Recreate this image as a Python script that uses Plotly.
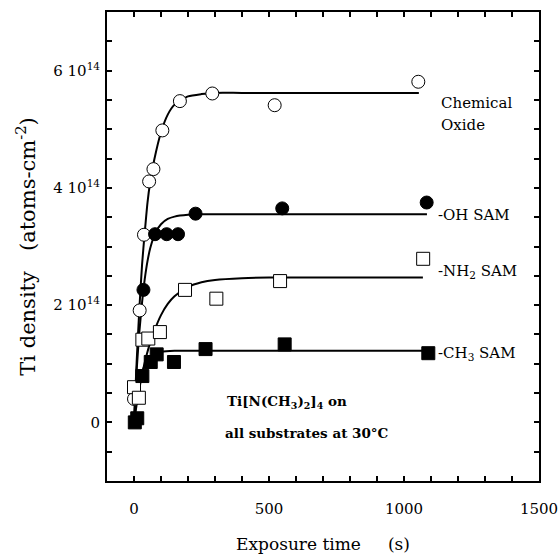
import plotly.graph_objects as go

# ---- data (Ti density in units of 1e14 atoms/cm^2, time in s) ----
ox_t = [0, 21, 37, 56, 72, 105, 170, 290, 521, 1053]
ox_v = [0.40, 1.91, 3.20, 4.11, 4.32, 4.98, 5.48, 5.61, 5.41, 5.81]

oh_t = [35, 78, 121, 163, 228, 549, 1084]
oh_v = [2.26, 3.21, 3.21, 3.21, 3.56, 3.65, 3.75]

nh2_t = [0, 18, 31, 53, 96, 189, 305, 541, 1071]
nh2_v = [0.60, 0.42, 1.41, 1.43, 1.54, 2.26, 2.11, 2.41, 2.79]

ch3_t = [3, 12, 31, 62, 84, 148, 265, 558, 1090]
ch3_v = [0.00, 0.07, 0.79, 1.03, 1.16, 1.03, 1.25, 1.33, 1.18]

# fit curves
ox_fit_t = [0, 10, 20, 30, 40, 50, 60, 75, 100, 125, 150, 200, 250, 300, 400, 1055]
ox_fit_v = [0, 1.05, 1.95, 2.70, 3.25, 3.75, 4.10, 4.48, 4.95, 5.25, 5.42, 5.56, 5.60, 5.62, 5.62, 5.62]

oh_fit_t = [0, 10, 20, 30, 40, 50, 60, 80, 100, 125, 150, 200, 250, 300, 1085]
oh_fit_v = [0, 0.90, 1.55, 2.05, 2.45, 2.75, 2.97, 3.24, 3.38, 3.47, 3.51, 3.54, 3.55, 3.55, 3.55]

nh2_fit_t = [0, 10, 20, 30, 45, 60, 75, 100, 125, 150, 200, 250, 300, 400, 500, 1070]
nh2_fit_v = [0, 0.31, 0.58, 0.82, 1.12, 1.36, 1.56, 1.83, 2.02, 2.15, 2.31, 2.39, 2.43, 2.46, 2.47, 2.47]

ch3_fit_t = [0, 10, 20, 30, 40, 50, 60, 80, 100, 150, 200, 1090]
ch3_fit_v = [0, 0.42, 0.68, 0.86, 0.97, 1.05, 1.11, 1.17, 1.20, 1.22, 1.22, 1.22]

x_tick_vals = list(range(0, 1501, 100))
x_tick_text = [str(v) if v % 500 == 0 else "" for v in x_tick_vals]
y_tick_vals = [i * 0.5 for i in range(-1, 14)]
y_tick_text = []
for v in y_tick_vals:
    if v == 0:
        y_tick_text.append("0")
    elif v in (2, 4, 6):
        y_tick_text.append("%d 10<sup>14</sup>" % v)
    else:
        y_tick_text.append("")

FONT = "DejaVu Serif, serif"

fig = go.Figure()
line_style = dict(color="black", width=2, shape="spline", smoothing=0.6)
for ft, fv in [(ox_fit_t, ox_fit_v), (oh_fit_t, oh_fit_v), (nh2_fit_t, nh2_fit_v), (ch3_fit_t, ch3_fit_v)]:
    fig.add_trace(go.Scatter(x=ft, y=fv, mode="lines", line=line_style, showlegend=False, hoverinfo="skip"))

def pts(t, v, symbol, fill):
    fig.add_trace(go.Scatter(
        x=t, y=v, mode="markers", showlegend=False,
        marker=dict(symbol=symbol, size=13, color=fill,
                    line=dict(color="black", width=1)),
    ))

pts(ox_t, ox_v, "circle", "white")
pts(oh_t, oh_v, "circle", "black")
pts(nh2_t, nh2_v, "square", "white")
pts(ch3_t, ch3_v, "square", "black")

lab_font = dict(family=FONT, size=15, color="black")
labels = [
    (1130, 5.45, "Chemical"),
    (1130, 5.075, "Oxide"),
    (1117, 3.54, "-OH SAM"),
    (1117, 2.58, "-NH<sub>2</sub> SAM"),
    (1117, 1.17, "-CH<sub>3</sub> SAM"),
]
for x, y, txt in labels:
    fig.add_annotation(x=x, y=y, text=txt, showarrow=False, xanchor="left", yanchor="middle", font=lab_font)

bold_font = dict(family=FONT, size=13.5, color="black")
fig.add_annotation(x=337, y=0.34, text="<b>Ti[N(CH<sub>3</sub>)<sub>2</sub>]<sub>4</sub> on</b>",
                   showarrow=False, xanchor="left", yanchor="middle", font=bold_font)
fig.add_annotation(x=330, y=-0.18, text="<b>all substrates at 30°C</b>",
                   showarrow=False, xanchor="left", yanchor="middle", font=bold_font)

fig.update_layout(
    width=560, height=554,
    margin=dict(l=107, r=21, t=12, b=73, autoexpand=False),
    paper_bgcolor="white", plot_bgcolor="white",
    font=dict(family=FONT, color="black"),
    xaxis=dict(range=[-100, 1500], tickmode="array", tickvals=x_tick_vals, ticktext=x_tick_text,
               ticks="inside", ticklen=5, tickwidth=1.5, tickcolor="black",
               showline=True, linecolor="black", linewidth=2, mirror="allticks",
               showgrid=False, zeroline=False, tickfont=dict(family=FONT, size=15),
               ticklabelstandoff=13, automargin=False,
               title=dict(text="Exposure time     (s)", font=dict(family=FONT, size=17), standoff=22)),
    yaxis=dict(range=[-1, 7], tickmode="array", tickvals=y_tick_vals, ticktext=y_tick_text,
               ticks="inside", ticklen=5, tickwidth=1.5, tickcolor="black",
               showline=True, linecolor="black", linewidth=2, mirror="allticks",
               showgrid=False, zeroline=False, tickfont=dict(family=FONT, size=15),
               ticklabelstandoff=2, automargin=False,
               title=dict(text="Ti density   (atoms-cm<sup>-2</sup>)", font=dict(family=FONT, size=21), standoff=12)),
)

fig.write_html("out.html", config={"displayModeBar": False},
               post_script="document.body.style.margin='0';")
